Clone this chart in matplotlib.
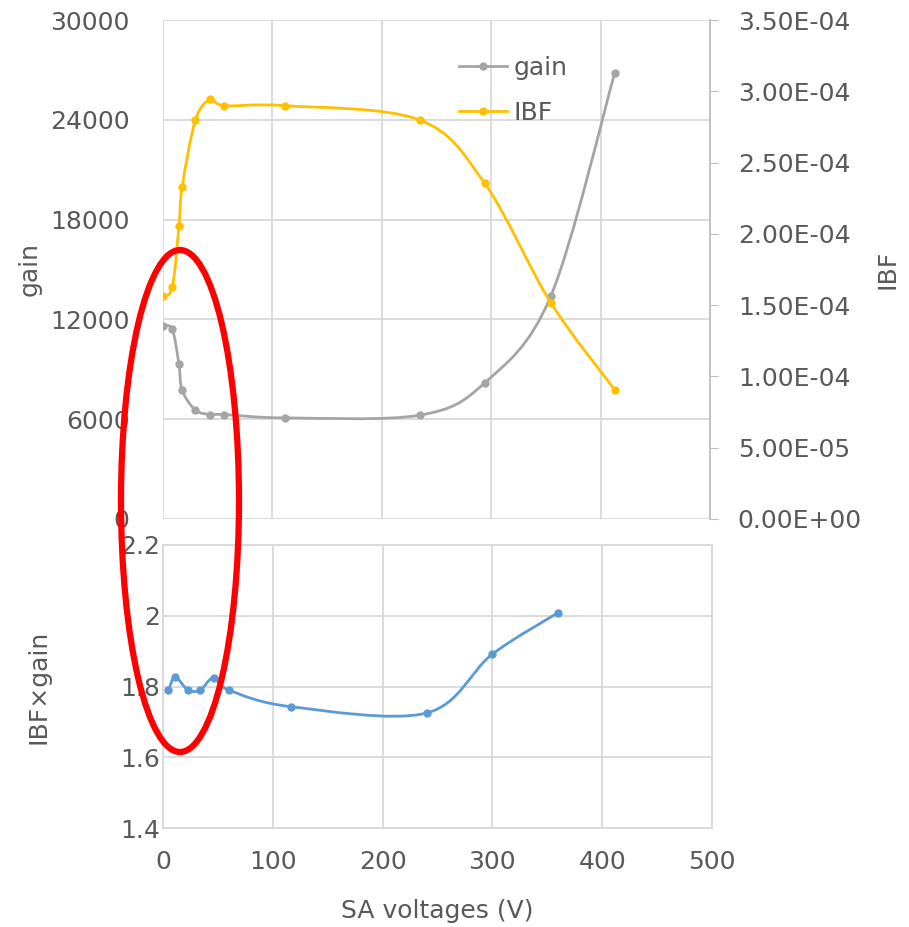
import matplotlib
matplotlib.use("Agg")
import matplotlib.pyplot as plt
from matplotlib.path import Path
from matplotlib.patches import PathPatch, Ellipse
from matplotlib.lines import Line2D
from matplotlib.ticker import FuncFormatter
import numpy as np

# %% data
sa_top = [0, 8.5, 14.6, 17.5, 29.7, 43.4, 56, 111.7, 234.5, 294, 354.5, 413]
gain = [11600, 11400, 9300, 7740, 6540, 6280, 6280, 6080, 6240, 8180, 13400, 26840]
ibf = [1.566e-4, 1.625e-4, 2.057e-4, 2.329e-4, 2.799e-4, 2.944e-4, 2.899e-4,
       2.899e-4, 2.799e-4, 2.355e-4, 1.517e-4, 9.05e-5]

sa_bot = [5, 11.2, 22.8, 33.9, 46.1, 59.9, 116.5, 240, 299.8, 360]
ibf_gain = [1.790, 1.826, 1.790, 1.790, 1.825, 1.790, 1.743, 1.725, 1.891, 2.009]

gain_ticks = [0, 6000, 12000, 18000, 24000, 30000]
ibf_ticks = [0, 5e-5, 1e-4, 1.5e-4, 2e-4, 2.5e-4, 3e-4, 3.5e-4]
prod_ticks = [1.4, 1.6, 1.8, 2.0, 2.2]
x_ticks = [0, 100, 200, 300, 400, 500]
prod_labels = ["1.4", "1.6", "1.8", "2", "2.2"]

C_GAIN = "#A5A5A5"
C_IBF = "#FFC000"
C_PROD = "#5B9BD5"
C_GRID = "#D9D9D9"
C_TXT = "#595959"
FS = 18

plt.rcParams["font.family"] = ["DejaVu Sans"]


def smooth_path(x, y, t=1 / 6):
    # excel-like smoothed line: cubic bezier segments through the points
    p = np.column_stack([x, y]).astype(float)
    ext = np.vstack([p[0], p, p[-1]])
    verts = [p[0]]
    codes = [Path.MOVETO]
    for i in range(len(p) - 1):
        p0, p1, p2, p3 = ext[i], ext[i + 1], ext[i + 2], ext[i + 3]
        verts += [p1 + (p2 - p0) * t, p2 - (p3 - p1) * t, p2]
        codes += [Path.CURVE4] * 3
    return Path(verts, codes)


def draw_series(ax, x, y, color):
    ax.add_patch(PathPatch(smooth_path(x, y), fill=False, edgecolor=color,
                           lw=2.0, capstyle="round", joinstyle="round", zorder=3))
    ax.plot(x, y, "o", color=color, ms=5, zorder=4)


fig = plt.figure(figsize=(9.09, 9.27), dpi=100)

# %% top panel: gain + IBF
ax1 = fig.add_axes([163 / 909, 1 - 519 / 927, 547 / 909, 499 / 927])
ax2 = ax1.twinx()

draw_series(ax1, sa_top, gain, C_GAIN)
draw_series(ax2, sa_top, ibf, C_IBF)

ax1.set_xlim(0, 500)
ax1.set_ylim(0, 30000)
ax1.set_xticks(x_ticks)
ax1.set_yticks(gain_ticks)
ax1.set_yticklabels([str(v) for v in gain_ticks])
ax1.tick_params(axis="x", labelbottom=False, length=0)
ax1.tick_params(axis="y", length=0, labelsize=FS, labelcolor=C_TXT, pad=24)
ax1.grid(True, color=C_GRID, lw=1.3)
ax1.set_axisbelow(True)
for s in ax1.spines.values():
    s.set_visible(False)
ax1.set_ylabel("gain", fontsize=FS, color=C_TXT, labelpad=6)

ax2.set_ylim(0, 3.5e-4)
ax2.set_yticks(ibf_ticks)
ax2.yaxis.set_major_formatter(FuncFormatter(lambda v, p: f"{v:.2E}"))
ax2.tick_params(axis="y", length=6, color="#BFBFBF", labelsize=FS,
                labelcolor=C_TXT, pad=14)
for k in ["top", "left", "bottom"]:
    ax2.spines[k].set_visible(False)
ax2.spines["right"].set_color("#BFBFBF")
ax2.spines["right"].set_linewidth(1.3)
ax2.set_ylabel("IBF", fontsize=FS, color=C_TXT, labelpad=10)

handles = [Line2D([], [], color=C_GAIN, lw=2.0, marker="o", ms=5),
           Line2D([], [], color=C_IBF, lw=2.0, marker="o", ms=5)]
ax2.legend(handles, ["gain", "IBF"], loc="upper left",
           bbox_to_anchor=(0.5, 0.973), frameon=False, fontsize=FS,
           labelcolor=C_TXT, handlelength=1.9, handletextpad=0.3,
           labelspacing=0.85)

# %% bottom panel: IBF x gain
ax3 = fig.add_axes([163 / 909, 1 - 828 / 927, 549 / 909, 283 / 927])
draw_series(ax3, sa_bot, ibf_gain, C_PROD)
ax3.set_xlim(0, 500)
ax3.set_ylim(1.4, 2.2)
ax3.set_xticks(x_ticks)
ax3.set_yticks(prod_ticks)
ax3.set_yticklabels(prod_labels)
ax3.tick_params(length=0, labelsize=FS, labelcolor=C_TXT)
ax3.tick_params(axis="y", pad=2)
ax3.tick_params(axis="x", pad=16)
ax3.grid(True, color=C_GRID, lw=1.3)
ax3.set_axisbelow(True)
for s in ax3.spines.values():
    s.set_color(C_GRID)
    s.set_linewidth(1.3)
ax3.set_ylabel("IBF×gain", fontsize=FS, color=C_TXT, labelpad=50)
ax3.set_xlabel("SA voltages (V)", fontsize=FS, color=C_TXT, labelpad=18)

# red ellipse annotation spanning both panels
ell = Ellipse((180, 927 - 501), 118, 502, transform=None, fill=False,
              edgecolor="#FF0000", lw=4.5, zorder=10)
fig.patches.append(ell)

fig.savefig("out.png", dpi=100)
